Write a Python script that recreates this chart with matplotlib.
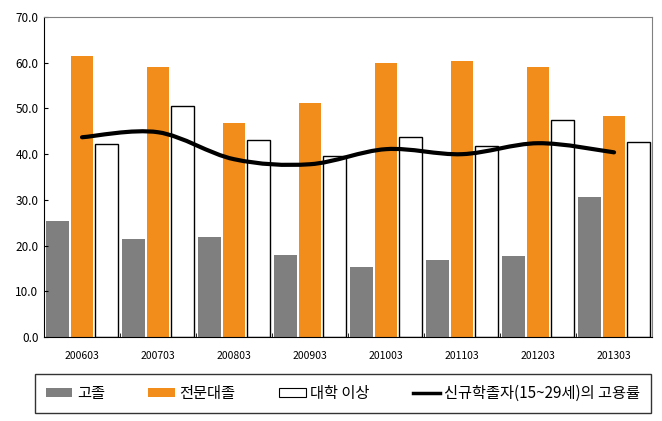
import numpy as np
import matplotlib
matplotlib.use("Agg")
import matplotlib.pyplot as plt
from matplotlib.path import Path
from matplotlib.patches import PathPatch, Patch
from matplotlib.lines import Line2D

plt.rcParams['font.family'] = ['Noto Sans CJK KR', 'DejaVu Sans']

# data
periods = ["200603", "200703", "200803", "200903", "201003", "201103", "201203", "201303"]
high_school = [25.4, 21.4, 21.9, 17.9, 15.3, 16.8, 17.7, 30.6]
college = [61.5, 59.1, 46.8, 51.2, 59.9, 60.4, 59.1, 48.3]
university = [42.2, 50.5, 43.0, 39.6, 43.7, 41.7, 47.4, 42.6]
new_grad_rate = [43.7, 44.8, 38.9, 37.8, 41.1, 40.0, 42.4, 40.4]
series_names = ["고졸", "전문대졸", "대학 이상", "신규학졸자(15~29세)의 고용률"]

gray = "#7f7f7f"
orange = "#f28c1a"

fig = plt.figure(figsize=(6.62, 4.21), dpi=100)
ax = fig.add_axes([0.0665, 0.1995, 0.9185, 0.760])

x = np.arange(len(periods))
w = 0.30
off = 0.322
ax.bar(x - off, high_school, w, color=gray, linewidth=0)
ax.bar(x, college, w, color=orange, linewidth=0)
ax.bar(x + off, university, w, color="white", edgecolor="black", linewidth=1.0)

# smoothed line (bezier through the points, like excel's smoothed line)
pts = np.column_stack([x, new_grad_rate])
verts = [tuple(pts[0])]
codes = [Path.MOVETO]
for i in range(len(pts) - 1):
    p0 = pts[i - 1] if i > 0 else pts[i]
    p1 = pts[i]
    p2 = pts[i + 1]
    p3 = pts[i + 2] if i + 2 < len(pts) else pts[i + 1]
    c1 = p1 + (p2 - p0) / 6.0
    c2 = p2 - (p3 - p1) / 6.0
    verts += [tuple(c1), tuple(c2), tuple(p2)]
    codes += [Path.CURVE4] * 3
ax.add_patch(PathPatch(Path(verts, codes), facecolor="none", edgecolor="black",
                       linewidth=3.0, capstyle="round", joinstyle="round", zorder=5))

ax.set_xlim(-0.5, len(periods) - 0.5)
ax.set_ylim(0, 70)
ax.set_yticks(np.arange(0, 71, 10))
ax.set_yticklabels(["%.1f" % v for v in np.arange(0, 71, 10)], fontsize=8.5)
ax.set_xticks(x)
ax.set_xticklabels(periods, fontsize=7.5)
ax.tick_params(axis="x", length=0, pad=10)
ax.tick_params(axis="y", length=3, direction="in", pad=4)
ax.set_xticks(np.arange(-0.5, len(periods), 1), minor=True)
ax.tick_params(axis="x", which="minor", length=3, direction="in")

for s in ["top", "right"]:
    ax.spines[s].set_color("#808080")
for s in ["left", "bottom"]:
    ax.spines[s].set_color("black")

handles = [
    Patch(facecolor=gray, edgecolor="none"),
    Patch(facecolor=orange, edgecolor="none"),
    Patch(facecolor="white", edgecolor="black", linewidth=0.8),
    Line2D([0], [0], color="black", linewidth=2.5),
]
leg = fig.legend(handles, series_names, loc="center", bbox_to_anchor=(0.518, 0.0655),
                 ncol=4, fontsize=11, frameon=True, fancybox=False, edgecolor="black",
                 handlelength=1.75, handleheight=0.45, handletextpad=0.3, columnspacing=2.83,
                 borderpad=0.7, borderaxespad=0)
leg.get_frame().set_linewidth(1.0)

fig.savefig("out.png", dpi=100)
